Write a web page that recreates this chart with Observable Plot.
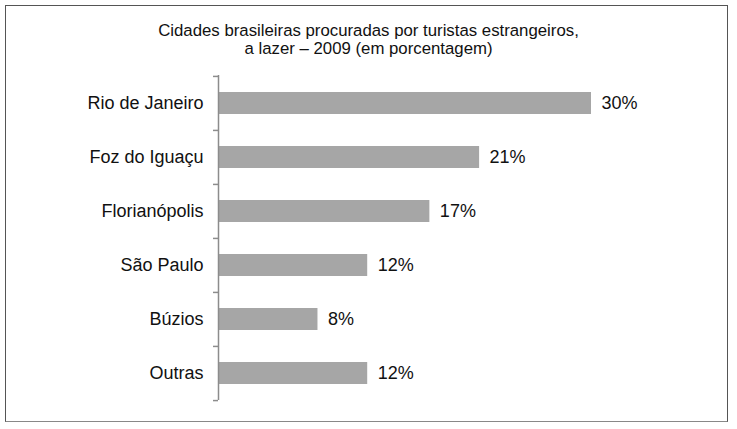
<!DOCTYPE html>
<html>
<head>
<meta charset="utf-8">
<script src="https://cdn.jsdelivr.net/npm/d3@7"></script>
<script src="https://cdn.jsdelivr.net/npm/@observablehq/plot@0.6"></script>
<style>
  html, body { margin: 0; padding: 0; background: #fff; }
  #wrap { position: relative; width: 737px; height: 429px; font-family: "Liberation Sans", Arial, sans-serif; }
  #frame { position: absolute; left: 5px; top: 5px; width: 721px; height: 415px; border: 1px solid #555; border-bottom-color: #888; }
  #title { position: absolute; left: 0; width: 737px; top: 22px; text-align: center; font-size: 16.8px; line-height: 18px; color: #111; }
  #chart { position: absolute; left: 0; top: 0; }
</style>
</head>
<body>
<div id="wrap">
  <div id="frame"></div>
  <div id="title">Cidades brasileiras procuradas por turistas estrangeiros,<br>a lazer – 2009 (em porcentagem)</div>
  <div id="chart"></div>
</div>
<script>
const cities = ["Rio de Janeiro", "Foz do Iguaçu", "Florianópolis", "São Paulo", "Búzios", "Outras"];
const values = [30, 21, 17, 12, 8, 12];
const valueLabels = ["30%", "21%", "17%", "12%", "8%", "12%"];

const data = cities.map((c, i) => ({city: c, value: values[i], label: valueLabels[i]}));

const W = 737, H = 429;
const mTop = 75, mBottom = 29;
const step = (H - mTop - mBottom) / cities.length;

const chart = Plot.plot({
  width: W,
  height: H,
  marginLeft: 218,
  marginRight: 146,
  marginTop: mTop,
  marginBottom: mBottom,
  style: {fontFamily: "'Liberation Sans', Arial, sans-serif", background: "transparent"},
  x: {domain: [0, 30], axis: null},
  y: {domain: cities, paddingInner: 0.6, paddingOuter: 0.3, axis: null},
  marks: [
    Plot.barX(data, {x: "value", y: "city", fill: "#a6a6a6"}),
    Plot.ruleX([0], {stroke: "#8c8c8c", strokeWidth: 1.5}),
    Plot.ruleY(data, {y: "city", x1: -0.4, x2: 0, dy: -step / 2, stroke: "#8c8c8c", strokeWidth: 1.5}),
    Plot.ruleY([data[data.length - 1]], {y: "city", x1: -0.4, x2: 0, dy: step / 2, stroke: "#8c8c8c", strokeWidth: 1.5}),
    Plot.text(data, {x: 0, y: "city", text: "city", textAnchor: "end", dx: -15, fontSize: 18, fill: "#111"}),
    Plot.text(data, {x: "value", y: "city", text: "label", textAnchor: "start", dx: 10, fontSize: 18, fill: "#111"})
  ]
});
document.getElementById("chart").appendChild(chart);
</script>
</body>
</html>
